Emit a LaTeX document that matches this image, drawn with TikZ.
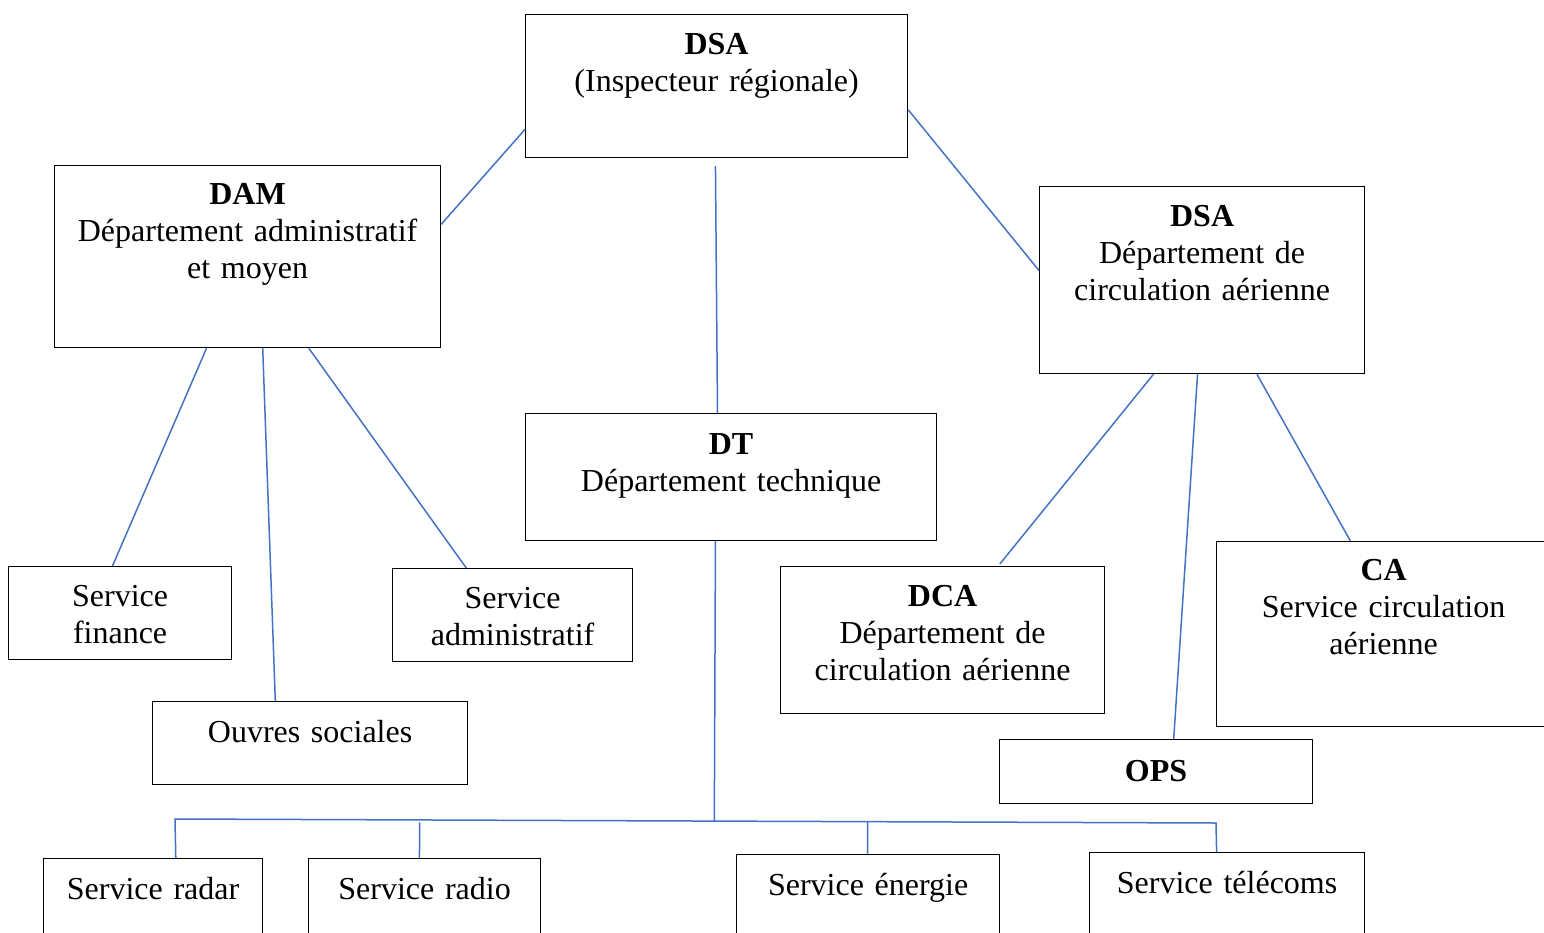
\documentclass[tikz,border=0pt]{standalone}
\usepackage{fontspec}
\setmainfont{Liberation Serif}
\usetikzlibrary{calc}
\definecolor{linkblue}{HTML}{4472C4}
\begin{document}
\begin{tikzpicture}[x=1pt,y=-1pt,
  box/.style={draw=black,line width=1.2pt,anchor=north west,inner sep=0pt},
  lbl/.style={anchor=base,align=center,inner sep=0pt,text width=#1,
    font=\fontsize{32}{37}\selectfont},
  lbl/.default=300pt,
  link/.style={draw=linkblue,line width=1.5pt}]
\useasboundingbox (0,0) rectangle (1544,932);

% boxes
\node[box,minimum width=382pt,minimum height=143pt] (dsa) at (525,14) {};
\node[box,minimum width=386pt,minimum height=182pt] (dam) at (54,165) {};
\node[box,minimum width=325pt,minimum height=187pt] (dca0) at (1039,186) {};
\node[box,minimum width=411pt,minimum height=127pt] (dt) at (525,413) {};
\node[box,minimum width=223pt,minimum height=93pt] (fin) at (8,566) {};
\node[box,minimum width=240pt,minimum height=93pt] (adm) at (392,568) {};
\node[box,minimum width=315pt,minimum height=83pt] (ouv) at (152,701) {};
\node[box,minimum width=324pt,minimum height=147pt] (dcab) at (780,566) {};
\node[box,minimum width=334pt,minimum height=185pt] (ca) at (1216,541) {};
\node[box,minimum width=313pt,minimum height=64pt] (ops) at (999,739) {};
\node[box,minimum width=219pt,minimum height=110pt] (radar) at (43,858) {};
\node[box,minimum width=232pt,minimum height=110pt] (radio) at (308,858) {};
\node[box,minimum width=263pt,minimum height=110pt] (ener) at (736,854) {};
\node[box,minimum width=275pt,minimum height=110pt] (tel) at (1089,852) {};

% labels
\node[lbl=370pt] (dsaT) at ($(dsa.north)+(0,40)$) {\textbf{DSA}\\(Inspecteur régionale)};
\node[lbl=370pt] (damT) at ($(dam.north)+(0,39)$) {\textbf{DAM}\\Département administratif\\et moyen};
\node[lbl=315pt] (dca0T) at ($(dca0.north)+(0,40)$) {\textbf{DSA}\\Département de\\circulation aérienne};
\node[lbl=400pt] (dtT) at ($(dt.north)+(0,41)$) {\textbf{DT}\\Département technique};
\node[lbl=215pt] (finT) at ($(fin.north)+(0,40)$) {Service\\finance};
\node[lbl=232pt] (admT) at ($(adm.north)+(0,40)$) {Service\\administratif};
\node[lbl=305pt] (ouvT) at ($(ouv.north)+(0,41)$) {Ouvres sociales};
\node[lbl=315pt] (dcabT) at ($(dcab.north)+(0,40)$) {\textbf{DCA}\\Département de\\circulation aérienne};
\node[lbl=325pt] (caT) at ($(ca.north)+(0,39)$) {\textbf{CA}\\Service circulation\\aérienne};
\node[lbl=305pt] (opsT) at ($(ops.north)+(0,42)$) {\textbf{OPS}};
\node[lbl=215pt] (radarT) at ($(radar.north)+(0,41)$) {Service radar};
\node[lbl=228pt] (radioT) at ($(radio.north)+(0,41)$) {Service radio};
\node[lbl=258pt] (enerT) at ($(ener.north)+(0,41)$) {Service énergie};
\node[lbl=270pt] (telT) at ($(tel.north)+(0,41)$) {Service télécoms};

% top level links
\draw[link] ($(dsa.south west)!0.2!(dsa.north west)$) -- ($(dam.north east)!0.324!(dam.south east)$);
\draw[link] ($(dsa.north east)!0.664!(dsa.south east)$) -- ($(dca0.north west)!0.449!(dca0.south west)$);
\draw[link] ([yshift=-8pt]$(dsa.south west)!0.497!(dsa.south east)$) -- ($(dt.north west)!0.467!(dt.north east)$);

% DAM services
\draw[link] ($(dam.south west)!0.394!(dam.south east)$) -- ($(fin.north west)!0.466!(fin.north east)$);
\draw[link] ($(dam.south west)!0.539!(dam.south east)$) -- ($(ouv.north west)!0.39!(ouv.north east)$);
\draw[link] ($(dam.south west)!0.658!(dam.south east)$) -- ($(adm.north west)!0.308!(adm.north east)$);

% DSA services
\draw[link] ($(dca0.south west)!0.351!(dca0.south east)$) -- ([yshift=2pt]$(dcab.north west)!0.676!(dcab.north east)$);
\draw[link] ($(dca0.south west)!0.486!(dca0.south east)$) -- ($(ops.north west)!0.556!(ops.north east)$);
\draw[link] ($(dca0.south west)!0.668!(dca0.south east)$) -- ($(ca.north west)!0.401!(ca.north east)$);

% DT bus
\coordinate (radarP) at ($(radar.north west)!0.603!(radar.north east)$);
\coordinate (radioP) at ($(radio.north west)!0.478!(radio.north east)$);
\coordinate (enerP) at ($(ener.north west)!0.498!(ener.north east)$);
\coordinate (telP) at ($(tel.north west)!0.462!(tel.north east)$);
\coordinate (busL) at (175,819);
\coordinate (busR) at (1216,823);
\draw[link] ($(dt.south west)!0.462!(dt.south east)$) -- ($(busL)!($(dt.south west)!0.462!(dt.south east)$)!(busR)$);
\draw[link] (radarP) -- (busL) -- (busR) -- (telP);
\draw[link] (radioP) -- ([yshift=-2.5pt]$(busL)!(radioP)!(busR)$);
\draw[link] (enerP) -- ($(busL)!(enerP)!(busR)$);
\end{tikzpicture}
\end{document}
